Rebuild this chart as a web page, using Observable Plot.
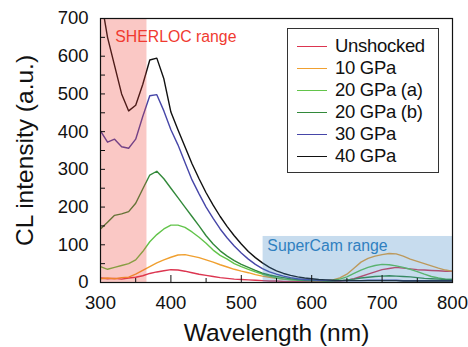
<!DOCTYPE html>
<html>
<head>
<meta charset="utf-8">
<script src="https://cdn.jsdelivr.net/npm/d3@7"></script>
<script src="https://cdn.jsdelivr.net/npm/@observablehq/plot@0.6"></script>
<style>
  body { margin: 0; background: #fff; font-family: "Liberation Sans", Arial, Helvetica, sans-serif; }
  #wrap { position: relative; width: 468px; height: 347px; }
  #legend { position: absolute; left: 287px; top: 28px; width: 152px; height: 145px; border: 1px solid #333; background: #fff; padding: 6px 0 0 9px; box-sizing: border-box; }
  .item { display: flex; align-items: center; height: 22px; font-size: 18.5px; color: #111; letter-spacing: -0.3px; }
  .sw { width: 30px; height: 0; border-top: 1.5px solid; margin-right: 8px; }
</style>
</head>
<body>
<div id="wrap"><div id="legend"></div></div>
<script>
const wavelengths = d3.range(300, 801, 10);
const seriesNames = ["Unshocked", "10 GPa", "20 GPa (a)", "20 GPa (b)", "30 GPa", "40 GPa"];
const seriesColors = ["#dc3550", "#f0a030", "#62c44a", "#32893a", "#4646a8", "#111111"];

const unshocked = [12,10,11,9,12,14,18,24,28,31,34,33,30,26,22,19,16,13,11,9,8,7,6,5,4,4,3,3,3,3,3,3,3,3,4,6,10,16,22,28,34,37,40,38,36,34,33,32,31,30,30];
const gpa10 = [10,12,10,13,14,22,32,42,52,60,67,73,74,70,66,60,54,47,41,35,30,26,21,17,14,11,9,8,7,6,5,5,5,7,12,22,38,54,64,70,74,77,76,70,62,56,50,44,38,33,30];
const gpa20a = [42,35,40,45,50,60,82,108,127,142,152,152,146,134,120,104,86,72,62,50,42,35,28,22,17,12,9,7,6,5,5,5,5,6,9,15,24,33,40,45,48,47,44,40,35,29,22,16,12,9,8];
const gpa20b = [142,160,178,182,188,210,248,285,295,275,250,225,200,175,150,124,102,84,70,58,48,40,32,25,20,16,13,10,8,6,5,5,4,4,5,7,9,12,14,16,17,18,17,16,15,13,11,10,9,8,8];
const gpa30 = [402,372,380,360,356,380,440,495,498,455,405,365,318,272,235,200,170,142,118,97,78,62,48,37,28,22,17,13,10,8,7,6,6,5,5,5,5,5,6,6,6,6,6,5,5,5,5,5,5,5,5];
const gpa40 = [760,650,575,500,455,470,525,590,595,540,452,405,360,315,275,238,205,175,148,124,102,82,66,52,40,31,24,19,15,12,10,8,7,6,5,5,5,5,5,5,5,5,5,4,4,4,4,4,4,4,4];
const seriesValues = [unshocked, gpa10, gpa20a, gpa20b, gpa30, gpa40];

const xTicks = [300, 400, 500, 600, 700, 800];
const xMinorTicks = [350, 450, 550, 650, 750];
const yTicks = [0, 100, 200, 300, 400, 500, 600, 700];
const yMinorTicks = [50, 150, 250, 350, 450, 550, 650];

const sherlocRange = [300, 366];
const superCamRange = [531, 800];
const superCamTop = 122;
const regionLabels = [
  {text: "SHERLOC range", x: 321, y: 652, color: "#f03a30"},
  {text: "SuperCam range", x: 537, y: 98, color: "#2f80c0"}
];

const rows = [];
seriesNames.forEach((name, i) => {
  wavelengths.forEach((w, j) => rows.push({series: name, w, v: seriesValues[i][j]}));
});

const chart = Plot.plot({
  width: 468,
  height: 347,
  marginLeft: 100,
  marginRight: 16,
  marginTop: 18,
  marginBottom: 65,
  style: {fontFamily: "'Liberation Sans', Arial, Helvetica, sans-serif", color: "#111", background: "transparent"},
  x: {domain: [300, 800]},
  y: {domain: [0, 700]},
  color: {domain: seriesNames, range: seriesColors},
  marks: [
    Plot.lineY(rows, {x: "w", y: "v", z: "series", stroke: "series", strokeWidth: 1.4, clip: true}),
    Plot.rectY([sherlocRange], {x1: d => d[0], x2: d => d[1], y1: 0, y2: 700, fill: "#ee3a30", fillOpacity: 0.28}),
    Plot.rectY([superCamRange], {x1: d => d[0], x2: d => d[1], y1: 0, y2: superCamTop, fill: "#468cc8", fillOpacity: 0.3}),
    Plot.text(regionLabels, {x: "x", y: "y", text: "text", fill: d => d.color, textAnchor: "start", fontSize: 15.8}),
    Plot.frame({stroke: "#111", strokeWidth: 1.2}),
    Plot.axisX({ticks: xTicks, tickSize: -7, tickPadding: 20, fontSize: 18.5, label: null}),
    Plot.axisX({ticks: xMinorTicks, tickSize: -4, tickFormat: () => "", label: null}),
    Plot.axisY({ticks: yTicks, tickSize: -5, tickPadding: 17, fontSize: 18.5, label: null}),
    Plot.axisY({ticks: yMinorTicks, tickSize: -5, tickFormat: () => "", label: null}),
    Plot.text(["Wavelength (nm)"], {frameAnchor: "bottom", lineAnchor: "middle", dy: 51, fontSize: 24.5}),
    Plot.text(["CL intensity (a.u.)"], {frameAnchor: "left", textAnchor: "middle", lineAnchor: "middle", dx: -75, rotate: -90, fontSize: 24.5})
  ]
});
document.getElementById("wrap").prepend(chart);

const legend = document.getElementById("legend");
seriesNames.forEach((name, i) => {
  const item = document.createElement("div");
  item.className = "item";
  const sw = document.createElement("span");
  sw.className = "sw";
  sw.style.borderColor = seriesColors[i];
  item.appendChild(sw);
  item.appendChild(document.createTextNode(name));
  legend.appendChild(item);
});
</script>
</body>
</html>
